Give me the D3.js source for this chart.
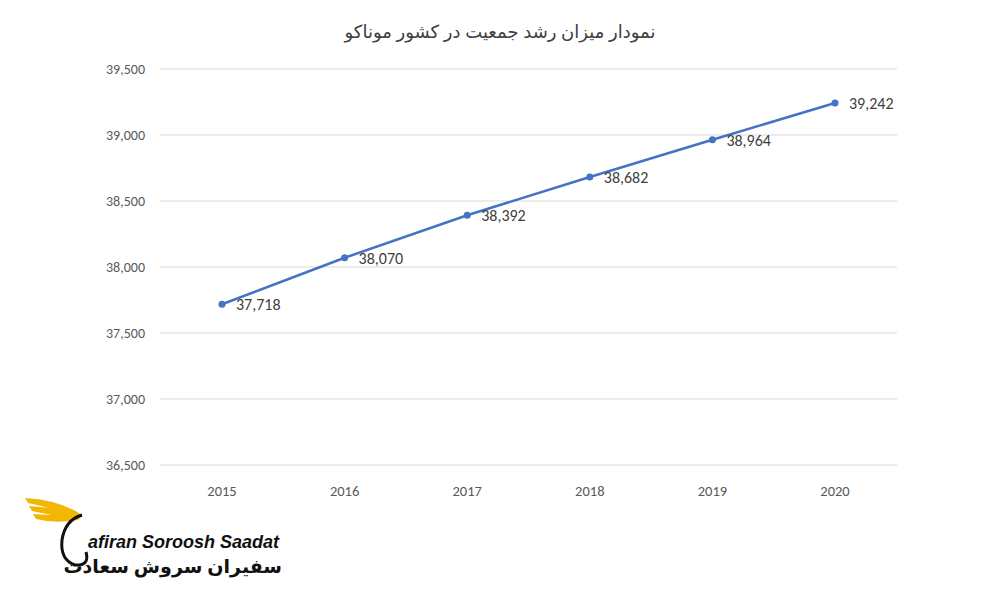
<!DOCTYPE html>
<html><head><meta charset="utf-8">
<script src="https://cdn.jsdelivr.net/npm/d3@7"></script>
<style>body{margin:0;background:#fff}</style>
</head><body>
<svg id="c" width="1000" height="600"></svg>
<script>
var years = ["2015","2016","2017","2018","2019","2020"];
var population = [37718, 38070, 38392, 38682, 38964, 39242];
var yTicks = [36500, 37000, 37500, 38000, 38500, 39000, 39500];
var title = "نمودار میزان رشد جمعیت در کشور موناکو";

var svg = d3.select("#c");
var font = "Calibri, 'Open Sans', 'Liberation Sans', Arial, sans-serif";

var x = d3.scalePoint().domain(years).range([222, 835]);
var y = d3.scaleLinear().domain([36500, 39500]).range([465, 69]);

svg.append("text").attr("x", 500).attr("y", 38).attr("text-anchor", "middle")
  .attr("font-family", "'Noto Sans', 'DejaVu Sans', sans-serif").attr("font-size", 18)
  .attr("fill", "#404040").attr("direction", "rtl").text(title);

svg.append("g").selectAll("line").data(yTicks).join("line")
  .attr("x1", 160).attr("x2", 897).attr("y1", y).attr("y2", y)
  .attr("stroke", "#d9d9d9").attr("stroke-width", 1);

svg.append("g").selectAll("text").data(yTicks).join("text")
  .attr("x", 145).attr("y", function(d){ return y(d) + 5; }).attr("text-anchor", "end")
  .attr("font-family", font).attr("font-size", 14).attr("fill", "#595959")
  .text(d3.format(","));

svg.append("g").selectAll("text").data(years).join("text")
  .attr("x", x).attr("y", 496).attr("text-anchor", "middle")
  .attr("font-family", font).attr("font-size", 14.5).attr("fill", "#595959")
  .text(function(d){ return d; });

var line = d3.line().x(function(d, i){ return x(years[i]); }).y(function(d){ return y(d); });
svg.append("path").datum(population).attr("d", line)
  .attr("fill", "none").attr("stroke", "#4472c4").attr("stroke-width", 2.5);

svg.append("g").selectAll("circle").data(population).join("circle")
  .attr("cx", function(d, i){ return x(years[i]); }).attr("cy", y).attr("r", 3.5)
  .attr("fill", "#4472c4");

svg.append("g").selectAll("text").data(population).join("text")
  .attr("x", function(d, i){ return x(years[i]) + 14; }).attr("y", function(d){ return y(d) + 6; })
  .attr("font-family", font).attr("font-size", 16).attr("fill", "#404040")
  .text(d3.format(","));

// logo
var g = svg.append("g");
[0, 8, 16].forEach(function(o){
  g.append("path").attr("d", "M" + (25 + o/2) + " " + (498 + o) + " Q60 " + (500 + o) + " 82 " + (515) + " L78 520 Q55 " + (508 + o) + " " + (28 + o/2) + " " + (503 + o) + " Z")
    .attr("fill", "#f2b705");
});
g.append("path").attr("d", "M82 515 Q65 520 62 540 Q60 560 75 565 Q90 566 86 552")
  .attr("fill", "none").attr("stroke", "#111").attr("stroke-width", 3);
g.append("text").attr("x", 88).attr("y", 548).attr("font-family", "'Liberation Sans', Arial, sans-serif")
  .attr("font-size", 18).attr("font-weight", "bold").attr("font-style", "italic").attr("fill", "#111")
  .text("afiran Soroosh Saadat");
g.append("text").attr("x", 282).attr("y", 573).attr("text-anchor", "start").attr("direction", "rtl")
  .attr("font-family", "'Noto Sans', 'DejaVu Sans', sans-serif").attr("font-size", 19).attr("font-weight", "bold")
  .attr("fill", "#111").text("سفیران سروش سعادت");
</script>
</body></html>
